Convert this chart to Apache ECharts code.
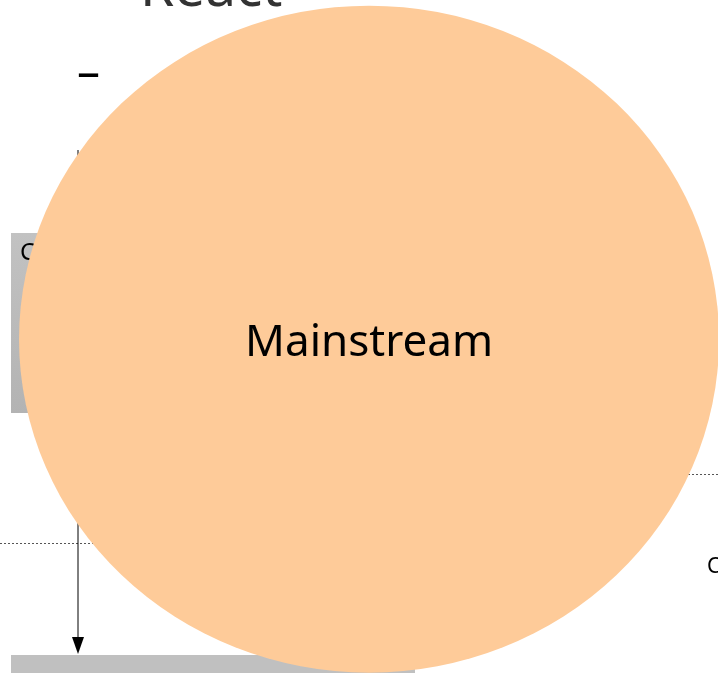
<!DOCTYPE html>
<html style="height: 100%">
<head>
  <meta charset="utf-8">
  <title>Mainstream</title>
  <script src="https://cdn.jsdelivr.net/npm/echarts@6/dist/echarts.min.js"></script>
</head>
<body style="margin:0;height:100%">
  <div id="main" style="width:718px;height:673px"></div>
  <script>
    // the one bubble on the slide, placed on a 0..100 hidden plane
    var segments = ['Mainstream'];
    var segmentX = [51.4];
    var segmentY = [49.6];

    var chart = echarts.init(document.getElementById('main'));

    var points = segments.map(function (name, i) {
      return { name: name, value: [segmentX[i], segmentY[i]] };
    });

    chart.setOption({
      backgroundColor: '#fff',
      animation: false,
      grid: { left: 0, right: 0, top: 0, bottom: 0 },
      xAxis: { type: 'value', min: 0, max: 100, show: false },
      yAxis: { type: 'value', min: 0, max: 100, show: false },
      // slide bits that sit behind the bubble
      graphic: [
        {
          type: 'text', z: 0, left: 140, top: -37,
          style: { text: 'React', fill: '#333', font: '55px "Noto Sans"' }
        },
        {
          type: 'text', z: 0, left: 77, top: 51,
          style: { text: '\u2013', fill: '#000', font: '46px "Noto Sans"' }
        },
        {
          type: 'rect', z: 0,
          shape: { x: 11, y: 233, width: 300, height: 180 },
          style: {
            fill: new echarts.graphic.LinearGradient(0, 0, 0, 1, [
              { offset: 0, color: '#c2c2c2' },
              { offset: 1, color: '#b3b3b3' }
            ])
          }
        },
        {
          type: 'text', z: 0, left: 20, top: 241,
          style: { text: 'C', fill: '#000', font: '24px "Noto Sans"' }
        },
        {
          type: 'line', z: 0,
          shape: { x1: 0, y1: 543.5, x2: 200, y2: 543.5 },
          style: { stroke: '#555', lineWidth: 1, lineDash: [2, 2] }
        },
        {
          type: 'line', z: 0,
          shape: { x1: 600, y1: 474.5, x2: 718, y2: 474.5 },
          style: { stroke: '#555', lineWidth: 1, lineDash: [2, 2] }
        },
        {
          type: 'text', z: 0, left: 707, top: 557,
          style: { text: 'C', fill: '#000', font: '21px "Noto Sans"' }
        },
        {
          type: 'line', z: 0,
          shape: { x1: 78, y1: 150, x2: 78, y2: 640 },
          style: { stroke: '#000', lineWidth: 1 }
        },
        {
          type: 'polygon', z: 0,
          shape: { points: [[72, 637], [84, 637], [78, 654]] },
          style: { fill: '#000' }
        },
        {
          type: 'rect', z: 0,
          shape: { x: 11, y: 655, width: 404, height: 18 },
          style: { fill: '#c0c0c0' }
        }
      ],
      series: [
        {
          type: 'scatter',
          z: 5,
          data: points,
          symbol: 'circle',
          symbolSize: [700, 667],
          itemStyle: { color: '#fecb99', opacity: 1 },
          label: {
            show: true,
            position: 'inside',
            formatter: '{b}',
            offset: [0, 4],
            color: '#000',
            fontFamily: 'Noto Sans',
            fontSize: 44
          },
          emphasis: { disabled: true }
        }
      ]
    });
  </script>
</body>
</html>
